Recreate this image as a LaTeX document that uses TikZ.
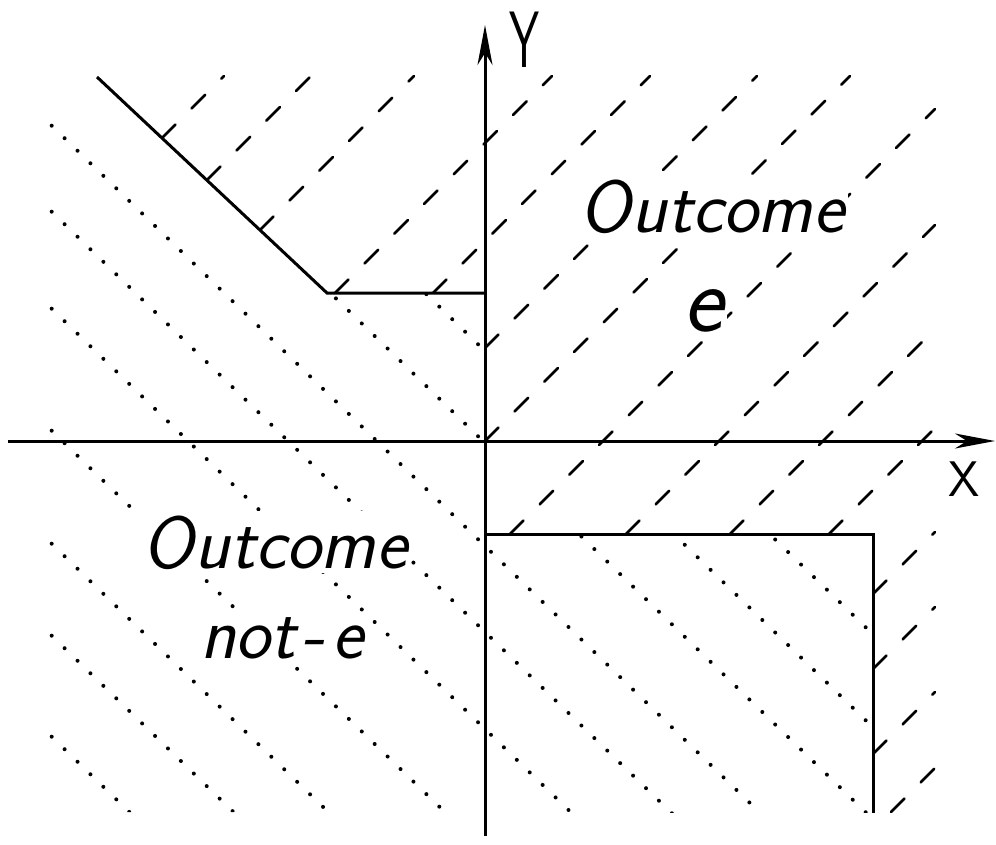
\documentclass[tikz,border=0pt]{standalone}
\usepackage{fontspec}
\usetikzlibrary{arrows.meta}
\begin{document}
\begin{tikzpicture}[x=1pt,y=-1pt,
  axis/.style={line width=3pt,-{Stealth[length=40pt,width=15pt,inset=12pt]}},
  bound/.style={line width=3pt,line join=miter},
  dashhatch/.style={line width=2.7pt,line cap=round,dash pattern=on 19pt off 23pt},
  dothatch/.style={line width=4pt,line cap=round,dash pattern=on 0pt off 18pt},
  lab/.style={font=\fontsize{74}{80}\selectfont\sffamily\slshape,fill=white,inner sep=4pt,anchor=base},
  axlab/.style={anchor=base,inner sep=0pt},
]
\useasboundingbox (0,0) rectangle (996,845);

% dotted hatching (outcome not-e)
\begin{scope}
  \clip (42,25) -- (327,293) -- (485,293) -- (485,812) -- (42,812) -- cycle;
  \foreach \Y in {351,443,546,632,729,851,964,1056,1157}
    \draw[dothatch] (0,{\Y-470.45}) -- (1000,{\Y+499.55});
\end{scope}
\begin{scope}
  \clip (485,534) rectangle (873,812);
  \foreach \Y in {258,351,443,546,632,729}
    \draw[dothatch] (0,{\Y-470.45}) -- (1000,{\Y+499.55});
\end{scope}

% dashed hatching (outcome e)
\foreach \sx/\sy/\ex/\ey in {162/138/224/76, 207/180/311/76, 260/230/414/76,
    335/293/552/76, 433/293/650/76, 485/348/757/76, 485/441/850/76,
    510/534/935/109, 626/534/935/225, 730/534/935/329, 829/534/935/428,
    873/594/935/532, 873/669/935/607, 873/754/935/692, 891/812/935/768}
  \draw[dashhatch] (\sx,\sy) -- (\ex,\ey);

% boundaries
\coordinate (top) at (97,77);
\coordinate (corner) at (327,293);
\coordinate (yb) at (485,293);
\coordinate (bl) at (485,534);
\coordinate (br) at (873,534);
\coordinate (bb) at (873,813);
\draw[bound] (top) -- (corner) -- (yb);
\draw[bound] (bl) -- (br) -- (bb);

% axes
\coordinate (O) at (485,441);
\coordinate (ybot) at (485,836);
\coordinate (ytop) at (485,25);
\coordinate (xleft) at (8,441);
\coordinate (xright) at (995,441);
\draw[axis] (ybot) -- (ytop);
\draw[axis] (xleft) -- (xright);

% labels
\node[axlab,font=\fontsize{80}{90}\selectfont\sffamily] (ylab) at (524,68) {\scalebox{0.6}[1]{Y}};
\node[axlab,font=\fontsize{50}{60}\selectfont\sffamily] (xlab) at (964,496) {X};
\node[lab] (oute) at (712,233) {Outcome};
\node[lab,font=\fontsize{95}{100}\selectfont\sffamily\slshape] (e) at (703,331) {e};
\node[lab] (outne) at (275,568) {Outcome};
\node[lab] (note) at (282,658) {not\kern6pt-\kern8pt e};
\end{tikzpicture}
\end{document}
